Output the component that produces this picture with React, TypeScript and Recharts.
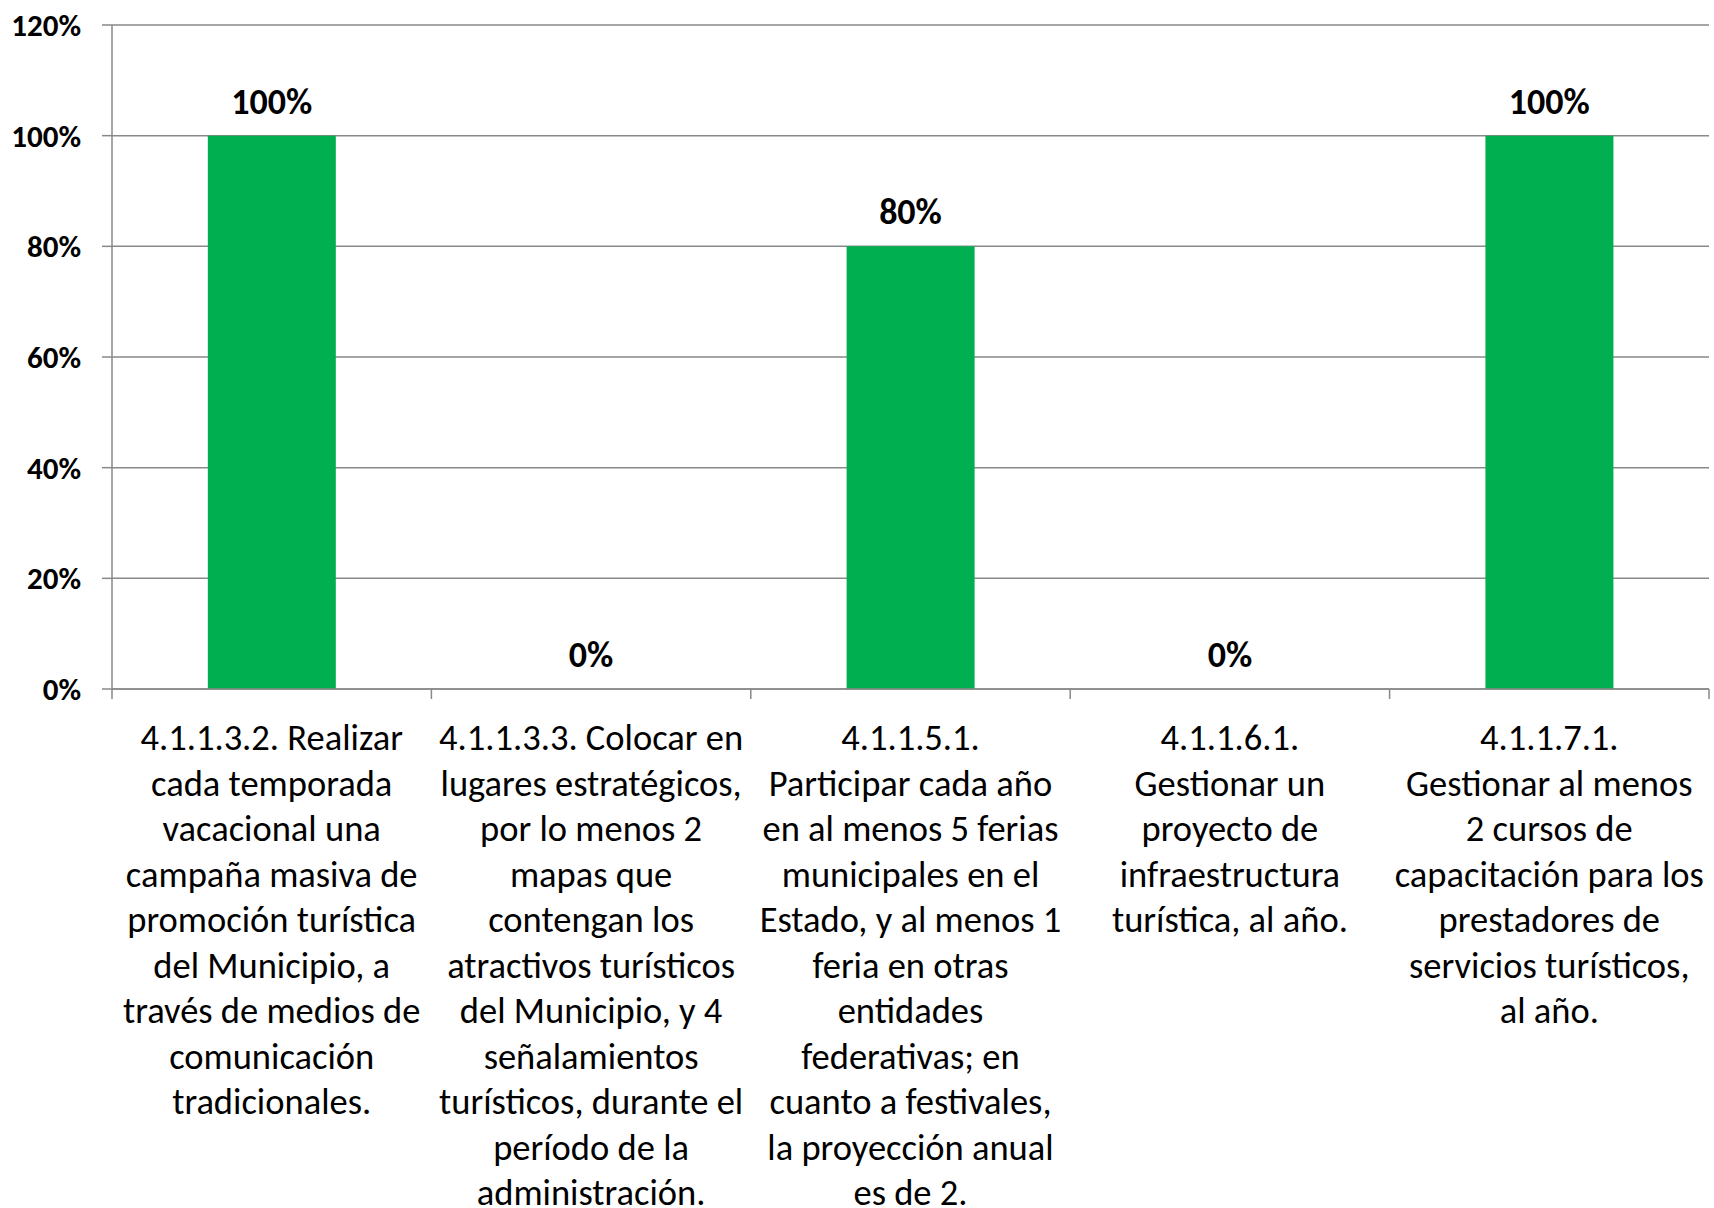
import React from "react";
import { ComposedChart, Bar, Line, XAxis, YAxis, CartesianGrid, LabelList } from "recharts";

const categories: string[] = ["4.1.1.3.2", "4.1.1.3.3", "4.1.1.5.1", "4.1.1.6.1", "4.1.1.7.1"];
const values: number[] = [100, 0, 80, 0, 100];
const categoryLines: string[][] = [
  ["4.1.1.3.2. Realizar", "cada temporada", "vacacional una", "campaña masiva de", "promoción turística", "del Municipio, a", "través de medios de", "comunicación", "tradicionales."],
  ["4.1.1.3.3. Colocar en", "lugares estratégicos,", "por lo menos 2", "mapas que", "contengan los", "atractivos turísticos", "del Municipio, y 4", "señalamientos", "turísticos, durante el", "período de la", "administración."],
  ["4.1.1.5.1.", "Participar cada año", "en al menos 5 ferias", "municipales en el", "Estado, y al menos 1", "feria en otras", "entidades", "federativas; en", "cuanto a festivales,", "la proyección anual", "es de 2."],
  ["4.1.1.6.1.", "Gestionar un", "proyecto de", "infraestructura", "turística, al año."],
  ["4.1.1.7.1.", "Gestionar al menos", "2 cursos de", "capacitación para los", "prestadores de", "servicios turísticos,", "al año."],
];
const yTicks: number[] = [0, 20, 40, 60, 80, 100, 120];

const data = categories.map((c, i) => ({ name: c, value: values[i] }));

const FONT = "Carlito, Lato, 'Open Sans', sans-serif";
const GRAY = "#898989";
const GREEN = "#00B050";

const CategoryTick = (props: any) => {
  const { x, y, payload, index } = props;
  const half = payload && payload.offset ? payload.offset : 0;
  const lines = categoryLines[index] || [];
  const last = index === categories.length - 1;
  return (
    <g>
      <line x1={x - half} x2={x - half} y1={y - 10} y2={y} stroke={GRAY} strokeWidth={1.5} />
      {last ? <line x1={x + half} x2={x + half} y1={y - 10} y2={y} stroke={GRAY} strokeWidth={1.5} /> : null}
      <text x={x} y={y + 51} textAnchor="middle" fontFamily={FONT} fontSize={36.5} fill="#000">
        {lines.map((l, i) => (
          <tspan key={i} x={x} dy={i === 0 ? 0 : 45.5}>
            {l}
          </tspan>
        ))}
      </text>
    </g>
  );
};

export default function App() {
  return (
    <div style={{ position: "absolute", left: 0, top: 0, background: "#fff" }}>
      <ComposedChart
        width={1714}
        height={1208}
        data={data}
        margin={{ top: 25, right: 5, bottom: 5, left: 0 }}
        barCategoryGap="30%"
      >
        <CartesianGrid vertical={false} stroke={GRAY} strokeWidth={1.5} />
        <XAxis
          dataKey="name"
          height={514}
          interval={0}
          tickLine={false}
          tickSize={10}
          tickMargin={0}
          axisLine={{ stroke: GRAY, strokeWidth: 1.5 }}
          tick={<CategoryTick />}
        />
        <YAxis
          width={112}
          domain={[0, 120]}
          ticks={yTicks}
          interval={0}
          tickFormatter={(v: number) => `${v}%`}
          tickSize={10}
          tickMargin={21}
          tickLine={{ stroke: GRAY, strokeWidth: 1.5 }}
          axisLine={{ stroke: GRAY, strokeWidth: 1.5 }}
          tick={{ fontFamily: FONT, fontSize: 31, fontWeight: 700, fill: "#000" }}
        />
        <Bar dataKey="value" fill={GREEN} isAnimationActive={false} />
        <Line
          dataKey="value"
          stroke="none"
          dot={false}
          activeDot={false}
          legendType="none"
          isAnimationActive={false}
        >
          <LabelList
            dataKey="value"
            position="top"
            offset={22}
            formatter={(v: any) => `${v}%`}
            style={{ fontFamily: FONT, fontSize: 36, fontWeight: 700, fill: "#000" }}
          />
        </Line>
      </ComposedChart>
    </div>
  );
}
